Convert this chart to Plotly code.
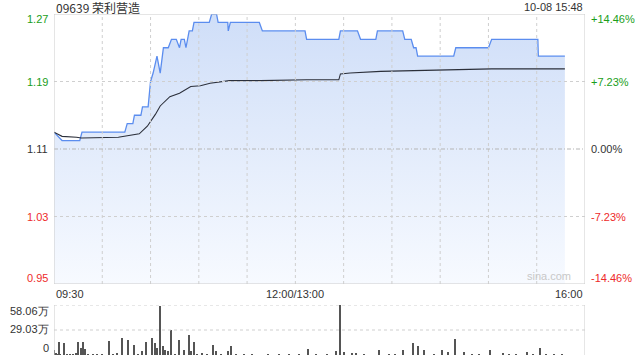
import plotly.graph_objects as go

# ---- data ----
prev_close = 1.11
# minutes since 09:30 on a trading-time axis (lunch removed), 0..330
price_t = [0, 5, 16, 17.4, 44, 45.5, 49, 50, 54, 55, 58.5, 60, 61.6, 64, 66, 68, 71, 73, 76, 78, 79, 81, 82, 84, 86, 87,
           96.5, 98, 101, 102, 108, 108.3, 109.6, 127.6, 129.5, 156, 157, 177, 178, 188.6, 190.5, 200, 201, 216.7,
           218, 222, 223.5, 225, 226, 248.4, 249.7, 270, 272, 300.7, 301, 317.5]
price_v = [1.13, 1.12, 1.12, 1.13, 1.13, 1.14, 1.14, 1.15, 1.15, 1.16, 1.16, 1.19, 1.20, 1.22, 1.20, 1.23, 1.23, 1.24,
           1.24, 1.23, 1.24, 1.24, 1.23, 1.25, 1.25, 1.26, 1.26, 1.27, 1.27, 1.26, 1.26, 1.25, 1.26, 1.26, 1.25, 1.25,
           1.24, 1.24, 1.25, 1.25, 1.24, 1.24, 1.25, 1.25, 1.24, 1.24, 1.23, 1.23, 1.22, 1.22, 1.23, 1.23, 1.24, 1.24,
           1.22, 1.22]

avg_t = [0, 5, 14, 17, 40, 53, 58, 63, 66, 72, 78, 85, 91, 97, 109, 128, 157, 166, 177, 178, 184, 203, 228, 253, 272, 317.5]
avg_v = [1.130, 1.125, 1.124, 1.123, 1.124, 1.128, 1.137, 1.151, 1.161, 1.172, 1.176, 1.184, 1.185, 1.188, 1.191, 1.191,
         1.192, 1.192, 1.192, 1.199, 1.200, 1.202, 1.203, 1.204, 1.205, 1.205]

vol_t = [0, 3, 6, 14, 15, 17, 18, 19, 34, 42, 46, 50, 55, 57, 61, 63, 64, 66, 68, 69, 71, 73, 78, 81, 84, 85, 87, 92,
         99, 101, 108, 110, 158, 175, 178, 180, 185, 202, 217, 223, 226, 230, 241, 245, 249, 255, 271, 279, 294, 302]
vol_v = [5.8, 15.4, 14.0, 2.0, 15.0, 7.8, 15.0, 7.0, 16.0, 19.7, 17.4, 12.0, 4.6, 15.0, 19.7, 14.0, 8.0, 57.2, 10.8,
         5.8, 4.6, 28.7, 17.4, 5.8, 23.2, 4.6, 15.0, 2.3, 12.0, 4.6, 4.6, 10.8, 7.0, 4.6, 58.06, 3.5, 2.3, 5.8, 5.8,
         14.0, 10.8, 5.8, 5.8, 3.5, 18.6, 3.5, 5.8, 2.3, 3.5, 8.0]
# small background volumes (万)
small_t = [1, 2, 4, 8, 10, 12, 21, 24, 27, 30, 37, 39, 52, 75, 89, 95, 104, 113, 118, 123, 133, 140, 146, 152, 163, 170,
           188, 193, 208, 212, 236, 260, 264, 283, 287, 298, 306, 311, 316]
small_v = [1.2, 0.8, 1.0, 0.9, 1.1, 0.8, 1.0, 0.9, 0.8, 1.0, 0.9, 1.2, 1.0, 1.1, 0.9, 1.0, 0.8, 1.0, 0.9, 1.0, 0.8, 0.9,
           1.0, 0.9, 1.0, 0.8, 1.3, 1.1, 1.0, 0.9, 1.0, 0.9, 1.0, 1.0, 0.9, 1.0, 0.9, 1.0, 0.8]

price_ticks = [1.27, 1.19, 1.11, 1.03, 0.95]
pct_labels = ["+14.46%", "+7.23%", "0.00%", "-7.23%", "-14.46%"]
vol_ticks = [58.06, 29.03, 0]
vol_labels = ["58.06万", "29.03万", "0"]
time_ticks = [0, 150, 330]
time_labels = ["09:30", "12:00/13:00", "16:00"]

GREEN = "#1a9e1a"
RED = "#ee2a2a"
GRAY = "#333333"
FONT = "Liberation Sans, Arial, sans-serif"

fig = go.Figure()

fig.add_trace(go.Scatter(
    x=price_t, y=price_v, mode="lines", line=dict(color="#5b8def", width=1.3),
    fill="tozeroy",
    fillgradient=dict(type="vertical", start=0.95, stop=1.27,
                      colorscale=[[0, "rgba(247,250,255,1)"], [1, "rgba(207,222,248,1)"]]),
    xaxis="x", yaxis="y", hoverinfo="skip"))

fig.add_trace(go.Scatter(x=avg_t, y=avg_v, mode="lines", line=dict(color="#2b2f3a", width=1.1),
                         xaxis="x", yaxis="y", hoverinfo="skip"))

fig.add_trace(go.Bar(x=vol_t + small_t, y=vol_v + small_v, width=0.7, marker=dict(color="#555555", line=dict(width=0)),
                     xaxis="x2", yaxis="y2", hoverinfo="skip"))

grid_x = [30 * i for i in range(1, 11)]

fig.update_layout(
    width=640, height=360,
    margin=dict(l=54, r=55, t=14, b=5),
    paper_bgcolor="white", plot_bgcolor="rgba(0,0,0,0)",
    showlegend=False,
    bargap=0,
    xaxis=dict(domain=[0, 1], range=[0, 330], anchor="y", showgrid=False, zeroline=False,
               showticklabels=False, ticks="", showline=False),
    yaxis=dict(domain=[0.2082, 1], range=[0.95, 1.27], showgrid=False, zeroline=False,
               showticklabels=False, ticks="", showline=False),
    xaxis2=dict(domain=[0, 1], range=[0, 330], anchor="y2", showgrid=False, zeroline=False,
                showticklabels=False, ticks="", showline=False),
    yaxis2=dict(domain=[0, 0.1466], range=[0, 58.06], showgrid=False, zeroline=False,
                showticklabels=False, ticks="", showline=False),
)

shapes = []
# vertical dotted grid in main panel
for gx in grid_x:
    shapes.append(dict(type="line", xref="x", yref="y", x0=gx, x1=gx, y0=0.95, y1=1.27,
                       line=dict(color="#cfcfcf", width=1, dash="dot"), layer="above"))
# horizontal grids
for gy in [1.19, 1.03]:
    shapes.append(dict(type="line", xref="x", yref="y", x0=0, x1=330, y0=gy, y1=gy,
                       line=dict(color="#cfcfcf", width=1, dash="dot"), layer="above"))
shapes.append(dict(type="line", xref="x", yref="y", x0=0, x1=330, y0=prev_close, y1=prev_close,
                   line=dict(color="#b5b5b5", width=1, dash="4px,2px,1px,2px"), layer="above"))
# main border
shapes.append(dict(type="rect", xref="x", yref="y", x0=0, x1=330, y0=0.95, y1=1.27,
                   line=dict(color="#cccccc", width=1), layer="above"))
# volume panel grid + border
shapes.append(dict(type="line", xref="x2", yref="y2", x0=0, x1=330, y0=29.03, y1=29.03,
                   line=dict(color="#cfcfcf", width=1, dash="dot"), layer="above"))
shapes.append(dict(type="line", xref="x2", yref="y2", x0=0, x1=330, y0=58.06, y1=58.06,
                   line=dict(color="#cfcfcf", width=1, dash="dot"), layer="above"))
shapes.append(dict(type="line", xref="x2", yref="y2", x0=0, x1=0, y0=0, y1=58.06,
                   line=dict(color="#cccccc", width=1), layer="above"))
shapes.append(dict(type="line", xref="x2", yref="y2", x0=330, x1=330, y0=0, y1=58.06,
                   line=dict(color="#cccccc", width=1), layer="above"))
fig.update_layout(shapes=shapes)

ann = []
colors = [GREEN, GREEN, GRAY, RED, RED]
shifts = {1.27: -5, 0.95: 6}
for v, lab, c in zip(price_ticks, pct_labels, colors):
    s = shifts.get(v, 0)
    ann.append(dict(xref="paper", yref="y", x=0, y=v, text=f"{v:.2f}", showarrow=False,
                    xanchor="right", yanchor="middle", xshift=-4, yshift=s,
                    font=dict(family=FONT, size=11, color=c)))
    ann.append(dict(xref="paper", yref="y", x=1, y=v, text=lab, showarrow=False,
                    xanchor="left", yanchor="middle", xshift=4, yshift=s,
                    font=dict(family=FONT, size=11, color=c)))
anchors = ["left", "center", "right"]
for t, lab, a in zip(time_ticks, time_labels, anchors):
    ann.append(dict(xref="x", yref="paper", x=t, y=0.2082, text=lab, showarrow=False,
                    xanchor=a, yanchor="top", yshift=-2, font=dict(family=FONT, size=11, color=GRAY)))
vshift = [-6, 1, 7]
for v, lab, s in zip(vol_ticks, vol_labels, vshift):
    ann.append(dict(xref="paper", yref="y2", x=0, y=v, text=lab, showarrow=False,
                    xanchor="right", yanchor="middle", xshift=-3, yshift=s,
                    font=dict(family=FONT, size=11, color=GRAY)))
ann.append(dict(xref="paper", yref="paper", x=0, y=1.0205, text="09639 荣利营造", showarrow=False,
                xanchor="left", yanchor="middle", xshift=0,
                font=dict(family="Noto Sans CJK SC, " + FONT, size=12, color=GRAY)))
ann.append(dict(xref="paper", yref="paper", x=1, y=1.0205, text="10-08 15:48", showarrow=False,
                xanchor="right", yanchor="middle",
                font=dict(family=FONT, size=11, color=GRAY)))
ann.append(dict(xref="paper", yref="y", x=0.978, y=0.95, text="sina.com", showarrow=False,
                xanchor="right", yanchor="bottom", yshift=0,
                font=dict(family=FONT, size=11, color="#c8c8c8")))
fig.update_layout(annotations=ann)

fig.write_html("out.html")
